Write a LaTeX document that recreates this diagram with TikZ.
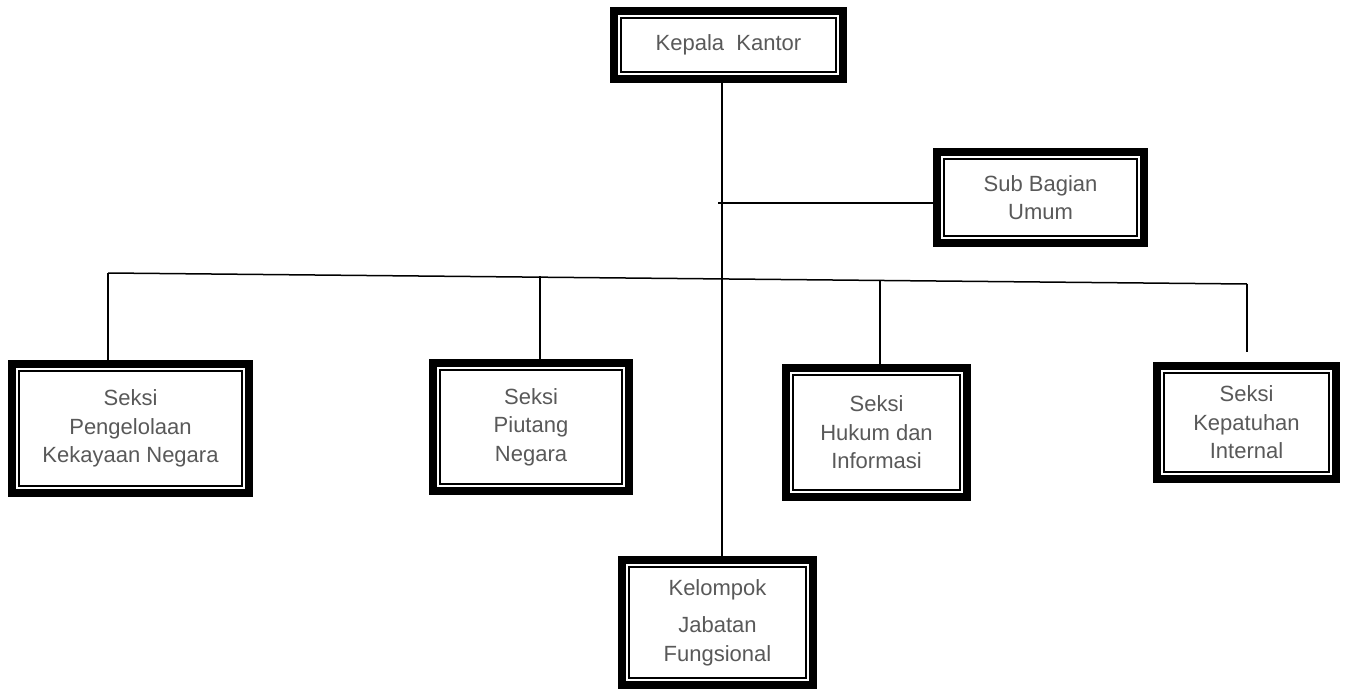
\documentclass[tikz,border=0pt]{standalone}
\usepackage{fontspec}
\setmainfont{Liberation Sans}
\definecolor{txtgray}{HTML}{595959}
\tikzset{
  orgbox/.style={draw=black, line width=8pt, fill=white, inner sep=0pt, align=center,
    text=txtgray, font=\fontsize{22}{28.5}\selectfont,
    path picture={\draw[line width=2pt,black]
      ([xshift=7pt,yshift=-7pt]path picture bounding box.north west) rectangle
      ([xshift=-7pt,yshift=7pt]path picture bounding box.south east);}},
  conn/.style={draw=black, line width=1.5pt}
}
\begin{document}
\begin{tikzpicture}[x=1pt,y=-1pt]
\useasboundingbox (0,0) rectangle (1352,690);
% boxes (outer size minus thick line width)
\node[orgbox, minimum width=229pt, minimum height=68pt] (kepala) at (728.5,45) {Kepala~ Kantor};
\node[orgbox, minimum width=207pt, minimum height=91pt] (sub) at (1040.5,197.5) {Sub Bagian\\Umum};
\node[orgbox, minimum width=237pt, minimum height=129pt] (pkn) at (130.5,428.5) {Seksi\\Pengelolaan\\Kekayaan Negara};
\node[orgbox, minimum width=196pt, minimum height=128pt] (pn) at (531,427) {Seksi\\Piutang\\Negara};
\node[orgbox, minimum width=181pt, minimum height=129pt] (hi) at (876.5,432.5) {Seksi\\Hukum dan\\Informasi};
\node[orgbox, minimum width=179pt, minimum height=113pt] (ki) at (1246.5,422.5) {Seksi\\Kepatuhan\\Internal};
\node[orgbox, minimum width=191pt, minimum height=125pt] (kjf) at (717.5,622.5) {Kelompok\\[9pt]Jabatan\\Fungsional};
% coordinates
\coordinate (vx) at (722,0);
\coordinate (sb) at (718,203);
\coordinate (L) at (108,273);
\coordinate (R) at (1247,284);
\coordinate (p2) at (540,276.2);
\coordinate (p3) at (880,280.5);
\coordinate (kiend) at (1247,352);
% connectors
\draw[conn] (kepala.south -| vx) -- (kjf.north -| vx);
\draw[conn] (sb) -- (sub.west |- sb);
\draw[conn] (L) -- (R);
\draw[conn] (L) -- (pkn.north -| L);
\draw[conn] (p2) -- (pn.north -| p2);
\draw[conn] (p3) -- (hi.north -| p3);
\draw[conn] (R) -- (kiend);
\end{tikzpicture}
\end{document}
